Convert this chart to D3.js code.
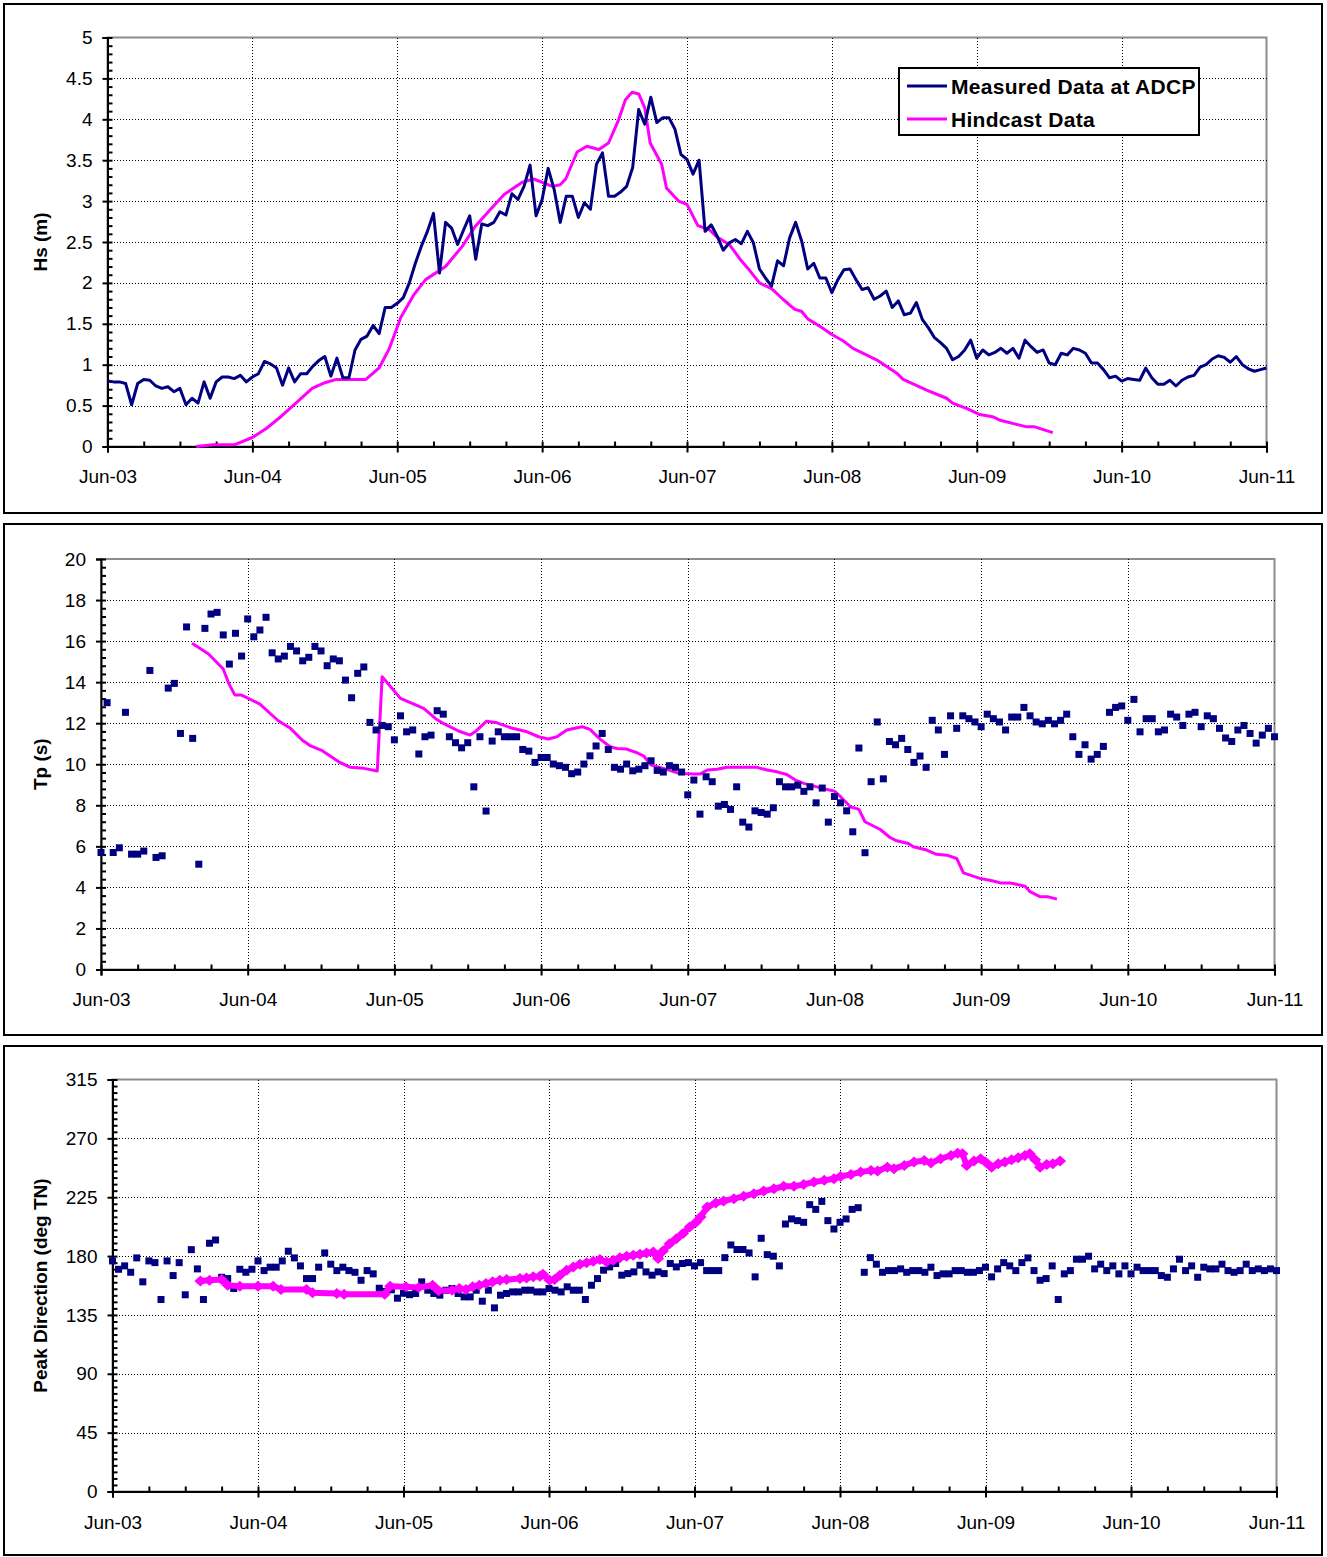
<!DOCTYPE html>
<html><head><meta charset="utf-8">
<script src="https://cdnjs.cloudflare.com/ajax/libs/d3/7.8.5/d3.min.js"></script>
<style>
body{margin:0;background:#fff}
text{font-family:"Liberation Sans",Arial,sans-serif}
</style></head>
<body><svg id="c" width="1327" height="1557"></svg>
<script>
// ---------- DATA ----------
const xTickLabels = ["Jun-03","Jun-04","Jun-05","Jun-06","Jun-07","Jun-08","Jun-09","Jun-10","Jun-11"];
const seriesNames = ["Measured Data at ADCP","Hindcast Data"];
const hsTicks = [0,0.5,1,1.5,2,2.5,3,3.5,4,4.5,5];
const tpTicks = [0,2,4,6,8,10,12,14,16,18,20];
const dirTicks = [0,45,90,135,180,225,270,315];

// hourly measured values, hour 0 = Jun-03
const hsMeasured = [0.80,0.79,0.79,0.77,0.51,0.77,0.82,0.81,0.74,0.71,0.73,0.67,0.71,0.51,0.59,0.53,0.79,0.59,0.79,0.85,
0.85,0.83,0.87,0.79,0.85,0.89,1.04,1.01,0.96,0.75,0.96,0.79,0.89,0.89,0.98,1.05,1.10,0.86,1.08,0.84,
0.84,1.18,1.31,1.35,1.48,1.38,1.70,1.70,1.75,1.82,2.00,2.24,2.45,2.63,2.85,2.12,2.74,2.67,2.47,2.65,
2.82,2.29,2.72,2.70,2.74,2.87,2.83,3.09,3.02,3.18,3.44,2.82,3.02,3.40,3.14,2.74,3.06,3.06,2.80,2.98,
2.90,3.45,3.59,3.06,3.06,3.11,3.18,3.41,4.12,3.94,4.27,3.96,4.02,4.02,3.88,3.57,3.51,3.33,3.50,2.63,
2.71,2.57,2.40,2.49,2.53,2.48,2.63,2.49,2.17,2.06,1.96,2.27,2.21,2.55,2.74,2.51,2.17,2.24,2.06,2.06,
1.88,2.04,2.16,2.17,2.04,1.92,1.94,1.80,1.84,1.90,1.70,1.78,1.61,1.63,1.76,1.55,1.45,1.33,1.27,1.20,
1.06,1.10,1.18,1.30,1.08,1.18,1.12,1.15,1.20,1.14,1.20,1.08,1.30,1.22,1.15,1.18,1.02,1.00,1.14,1.12,
1.20,1.18,1.14,1.02,1.02,0.94,0.84,0.86,0.80,0.83,0.82,0.81,0.96,0.84,0.76,0.76,0.81,0.74,0.81,0.85,
0.87,0.97,1.00,1.07,1.11,1.09,1.03,1.10,1.00,0.95,0.92,0.94,0.96];

// [hour, value]
const hsHindcast = [[14.7,0],[17.5,0.02],[21,0.02],[24,0.11],[26.3,0.22],[28.8,0.37],[31.8,0.57],[33.9,0.71],[36,0.78],[37.9,0.82],
[42.8,0.82],[45,0.96],[46.7,1.2],[48.6,1.58],[50.8,1.86],[52.7,2.04],[56,2.2],[58.8,2.45],[60.9,2.69],[63.2,2.88],
[65.7,3.08],[68.7,3.23],[70.6,3.27],[73.7,3.18],[75,3.2],[75.9,3.27],[77.8,3.6],[79.4,3.67],[81.4,3.63],[83,3.71],
[84.7,4.0],[85.8,4.24],[86.9,4.33],[88,4.31],[89,4.14],[89.9,3.71],[91.8,3.45],[92.6,3.16],[94.6,3.0],[96,2.96],
[97.8,2.7],[99.7,2.65],[100.8,2.57],[103,2.47],[105,2.27],[106.3,2.16],[108,2.0],[110,1.93],[111.9,1.8],[113.8,1.68],
[115,1.65],[116,1.56],[118,1.47],[120,1.37],[121.9,1.29],[123.5,1.2],[127.4,1.06],[130.7,0.9],[131.8,0.82],[135.7,0.69],
[139,0.59],[140,0.53],[142.5,0.46],[144.5,0.39],[146.8,0.36],[147.9,0.32],[152.3,0.24],[153.6,0.24],[156.6,0.17]];

const tpMeasured = [5.70,13.0,5.70,5.93,12.53,5.62,5.62,5.77,14.57,5.46,5.54,13.71,13.94,11.50,16.69,11.26,5.13,16.62,17.32,17.40,
16.30,14.88,16.38,15.27,17.08,16.21,16.54,17.16,15.43,15.13,15.27,15.74,15.52,15.04,15.21,15.74,15.52,14.80,15.13,15.04,
14.10,13.24,14.43,14.74,12.04,11.67,11.89,11.83,11.19,12.36,11.58,11.67,10.50,11.34,11.42,12.61,12.44,11.34,11.05,10.80,
11.05,8.90,11.34,7.72,11.13,11.58,11.34,11.34,11.34,10.72,10.64,10.09,10.33,10.33,10.01,9.93,9.85,9.54,9.62,10.01,
10.41,10.89,11.50,10.72,9.85,9.76,10.01,9.68,9.76,9.93,10.17,9.70,9.62,9.93,9.85,9.62,8.51,9.23,7.57,9.39,
9.15,7.96,8.04,7.80,8.90,7.18,6.94,7.73,7.65,7.57,7.88,9.15,8.90,8.90,8.98,8.68,8.90,8.12,8.84,7.18,
8.43,8.12,7.73,6.71,10.79,5.69,9.15,12.06,9.29,11.11,10.95,11.26,10.72,10.09,10.40,9.85,12.14,11.67,10.48,12.36,
11.75,12.36,12.22,12.06,11.83,12.44,12.22,12.06,11.67,12.30,12.30,12.77,12.36,12.06,11.97,12.14,11.97,12.14,12.44,11.34,
10.48,10.95,10.25,10.48,10.87,12.53,12.77,12.84,12.14,13.16,11.58,12.22,12.22,11.58,11.67,12.44,12.30,11.89,12.44,12.53,
11.83,12.36,12.22,11.75,11.28,11.11,11.67,11.89,11.50,11.03,11.42,11.75,11.34];

const tpHindcast = [[14.9,15.89],[17.6,15.37],[20,14.64],[20.9,13.94],[21.9,13.37],[23,13.37],[26,12.93],[29,12.12],[31,11.75],[32.9,11.18],
[34.3,10.89],[36.2,10.66],[38.9,10.12],[40.8,9.85],[43,9.80],[45.2,9.67],[46,14.26],[49,13.21],[50.9,12.96],[52.8,12.72],
[54.7,12.23],[56,11.99],[58.5,11.62],[60.4,11.42],[61.2,11.58],[63.1,12.10],[64.8,12.02],[67,11.78],[69.7,11.58],[71.6,11.34],
[73.2,11.23],[74.6,11.34],[76.2,11.67],[78.7,11.83],[80,11.70],[81.7,11.21],[83.3,10.85],[84.4,10.77],[86,10.74],[87.7,10.56],
[88.8,10.40],[90,9.96],[92,9.80],[94.2,9.59],[95.5,9.55],[97,9.52],[98,9.52],[99.2,9.72],[100.8,9.76],[102.4,9.85],
[107.3,9.85],[109,9.72],[110.6,9.63],[112.2,9.50],[113.6,9.23],[115,9.07],[117.1,8.90],[118.8,8.77],[120,8.69],[121,8.42],
[122.6,7.93],[124,7.80],[125,7.20],[127.5,6.82],[129.1,6.43],[130.2,6.27],[132.1,6.14],[132.9,5.98],[135.1,5.82],[136.7,5.61],
[138.4,5.57],[140,5.41],[141.1,4.71],[143.8,4.44],[146,4.31],[147.1,4.22],[148.7,4.22],[151.2,4.06],[152,3.79],[153.7,3.54],
[155,3.54],[156.4,3.43]];

const dirMeasured = [176.3,169.9,172.5,167.6,178.6,160.3,176.3,175.0,146.8,176.3,165.1,175.0,150.4,184.9,170.2,146.8,189.8,192.3,163.8,162.8,
155.2,169.9,167.6,169.9,176.3,168.9,171.5,171.5,176.3,183.7,178.6,172.5,162.8,162.8,171.5,182.4,173.8,168.9,171.5,168.9,
167.6,161.5,168.9,166.4,155.4,153.0,154.2,147.8,151.6,150.5,151.4,160.3,153.9,151.4,150.1,153.9,155.2,151.4,148.8,148.8,
153.9,145.5,153.9,140.4,150.1,151.4,152.6,152.6,153.9,153.9,152.6,152.6,155.2,153.9,152.6,156.5,153.9,153.9,146.8,157.7,
162.8,169.2,171.7,174.3,165.4,166.6,167.9,173.0,167.9,165.4,167.9,166.6,174.3,171.7,174.3,175.0,172.5,175.0,168.9,168.9,
168.9,178.8,188.5,185.0,185.0,182.4,164.1,193.6,181.1,179.9,172.5,204.5,208.4,207.1,205.8,219.3,215.7,221.8,207.1,200.7,
205.8,208.4,215.7,217.0,167.6,178.8,173.8,167.6,168.9,168.9,170.2,167.6,168.9,168.9,167.6,171.5,165.1,166.4,166.4,168.9,
168.9,167.6,167.6,168.9,171.5,164.1,170.2,175.0,172.5,168.9,175.0,178.6,168.9,161.5,162.8,172.5,146.8,166.4,168.9,177.6,
177.6,179.9,170.2,173.8,168.9,172.5,166.4,172.5,166.4,171.5,168.9,168.9,168.9,165.1,163.8,170.2,177.6,168.9,172.5,163.8,
171.5,170.2,170.2,173.8,168.9,167.6,168.9,173.8,168.9,170.2,168.9,170.2,168.9];

const dirHindcast = [[14.5,161],[16,161.5],[18,162],[19,157.7],[21,157],[24,157],[26.5,157],[27.8,154.4],[32,154.4],[33,151.9],
[37,151.4],[38.2,150.9],[44.9,150.9],[45.8,157],[48.4,156.5],[50.5,156],[52.8,157.7],[53.8,153.4],[56,153.9],[57.2,155.2],
[58.3,154.5],[59.4,156.5],[60.5,157.7],[61.6,159],[62.7,160.3],[63.9,161.5],[65,162],[67.2,162.8],[68.3,163.3],[69.4,164.1],
[70.5,164.6],[71,166.1],[72.1,161.5],[72.9,162],[73.8,165.4],[74.9,169.2],[76,171.7],[77.1,173.8],[78.2,174.8],[79.3,176],
[80.4,177.3],[81.5,175.5],[82.6,176.8],[83.7,178.8],[84.8,179.9],[85.9,180.6],[87,181.4],[88.1,182.4],[89.2,183.2],[90,178.1],
[90.8,183.9],[91.9,189.5],[93,193.3],[94.1,197.2],[95.2,202.2],[96.3,206.1],[97,209.9],[98.1,217.5],[99.5,220.6],[100.8,222.1],
[102.5,223.9],[104.1,225.7],[105.8,227.7],[107.4,229.7],[109.1,231.5],[110.7,233.3],[112.4,233.3],[114,234.8],[115.7,236.6],[117.4,237.9],
[119,239.1],[120.1,240.9],[121.8,242.4],[123.4,244.2],[125.1,245.5],[126.2,245],[127.8,248],[128.9,246.8],[130.6,249.3],[132.2,251.9],
[133.9,253.1],[135,251.1],[136.6,254.4],[138.3,256.9],[139.4,258.7],[140.2,258.2],[140.9,249.3],[142.1,252.6],[143.2,254.4],[144,251.9],
[145,248],[146.1,250.6],[147.2,251.9],[148.3,253.6],[149.4,255.2],[150.5,256.9],[151.3,258.2],[152.2,253.6],[153,248],[154.1,250],
[155.1,250.6],[156.3,252.6]];

// ---------- DRAW ----------
const NAVY = "#000080", MAG = "#FF00FF";
const svg = d3.select("#c");
const hourTicks = d3.range(0, 193, 24);
const minorHourTicks = d3.range(0, 193, 6);

function panel(cfg){
  const g = svg.append("g");
  g.append("rect").attr("x",cfg.box[0]).attr("y",cfg.box[1]).attr("width",cfg.box[2]-cfg.box[0]).attr("height",cfg.box[3]-cfg.box[1])
    .attr("fill","#fff").attr("stroke","#000").attr("stroke-width",2);
  const x = d3.scaleLinear().domain([0,192]).range([cfg.l,cfg.r]);
  const y = d3.scaleLinear().domain([0,cfg.ticks[cfg.ticks.length-1]]).range([cfg.b,cfg.t]);
  g.append("rect").attr("x",cfg.l).attr("y",cfg.t).attr("width",cfg.r-cfg.l).attr("height",cfg.b-cfg.t)
    .attr("fill","none").attr("stroke","#8c8c8c").attr("stroke-width",2);
  const grid = g.append("g").attr("stroke","#000").attr("stroke-width",1).attr("stroke-dasharray","1,2").attr("shape-rendering","crispEdges");
  grid.selectAll(".hg").data(cfg.ticks.slice(1,-1)).join("line")
    .attr("x1",cfg.l).attr("x2",cfg.r).attr("y1",d=>Math.round(y(d))+0.5).attr("y2",d=>Math.round(y(d))+0.5);
  grid.selectAll(".vg").data(hourTicks.slice(1,-1)).join("line")
    .attr("y1",cfg.t).attr("y2",cfg.b).attr("x1",d=>Math.round(x(d))+0.5).attr("x2",d=>Math.round(x(d))+0.5);
  const ya = g.append("g").attr("transform",`translate(${cfg.l},0)`)
    .call(d3.axisLeft(y).tickValues(cfg.ticks).tickSize(5).tickPadding(10).tickFormat(d=>String(d)));
  const minorY = d3.range(0, cfg.ticks[cfg.ticks.length-1]+1e-9, cfg.minor);
  const yb = g.append("g").attr("transform",`translate(${cfg.l},0)`)
    .call(d3.axisRight(y).tickValues(minorY).tickSize(5).tickFormat(""));
  yb.select(".domain").remove();
  const xa = g.append("g").attr("transform",`translate(0,${cfg.b})`)
    .call(d3.axisBottom(x).tickValues(hourTicks).tickSize(6).tickPadding(cfg.xpad).tickFormat((d,i)=>xTickLabels[i]));
  const xb = g.append("g").attr("transform",`translate(0,${cfg.b})`)
    .call(d3.axisTop(x).tickValues(minorHourTicks).tickSize(5).tickFormat(""));
  xb.select(".domain").remove();
  [ya,yb,xa,xb].forEach(a=>{
    a.selectAll("line").attr("stroke","#000").attr("stroke-width",2);
    a.selectAll(".domain").attr("stroke","#000").attr("stroke-width",2);
    a.selectAll("text").attr("font-size",19).attr("fill","#000").style("font-family",'"Liberation Sans",Arial,sans-serif');
  });
  g.append("text").attr("transform",`translate(${cfg.titleX},${(cfg.t+cfg.b)/2}) rotate(-90)`)
    .attr("text-anchor","middle").attr("dominant-baseline","central").attr("font-size",19).attr("font-weight","bold").text(cfg.title);
  return {g,x,y};
}

// Panel 1: Hs
const p1 = panel({box:[4,4,1322,513], l:107.5, r:1266.5, t:37.5, b:446.5, ticks:hsTicks, minor:0.1, title:"Hs (m)", titleX:40, xpad:17});
p1.g.append("path").datum(hsHindcast).attr("fill","none").attr("stroke",MAG).attr("stroke-width",3).attr("stroke-linejoin","round")
  .attr("d", d3.line().x(d=>p1.x(d[0])).y(d=>p1.y(d[1])));
p1.g.append("path").datum(hsMeasured).attr("fill","none").attr("stroke",NAVY).attr("stroke-width",3).attr("stroke-linejoin","round")
  .attr("d", d3.line().x((d,i)=>p1.x(i)).y(d=>p1.y(d)));
const lg = p1.g.append("g");
lg.append("rect").attr("x",899).attr("y",68).attr("width",300).attr("height",67).attr("fill","#fff").attr("stroke","#000").attr("stroke-width",2);
[NAVY,MAG].forEach((c,i)=>{
  const yy = 86 + i*33;
  lg.append("line").attr("x1",907).attr("x2",947).attr("y1",yy).attr("y2",yy).attr("stroke",c).attr("stroke-width",3);
  lg.append("text").attr("x",951).attr("y",yy).attr("dominant-baseline","central").attr("font-size",21).attr("font-weight","bold")
    .attr("letter-spacing",0.3).text(seriesNames[i]);
});

// Panel 2: Tp
const p2 = panel({box:[4,524,1322,1035], l:101, r:1274.5, t:559, b:969.5, ticks:tpTicks, minor:0.4, title:"Tp (s)", titleX:40, xpad:17});
p2.g.append("path").datum(tpHindcast).attr("fill","none").attr("stroke",MAG).attr("stroke-width",3).attr("stroke-linejoin","round")
  .attr("d", d3.line().x(d=>p2.x(d[0])).y(d=>p2.y(d[1])));
p2.g.selectAll(".sq").data(tpMeasured).join("rect").attr("width",7).attr("height",7)
  .attr("x",(d,i)=>p2.x(i)-3.5).attr("y",d=>p2.y(d)-3.5).attr("fill",NAVY);

// Panel 3: Direction
const p3 = panel({box:[4,1046,1322,1555], l:112.5, r:1276.5, t:1079.5, b:1491.5, ticks:dirTicks, minor:5, title:"Peak Direction (deg TN)", titleX:40, xpad:18});
p3.g.selectAll(".sq").data(dirMeasured).join("rect").attr("width",7).attr("height",7)
  .attr("x",(d,i)=>p3.x(i)-3.5).attr("y",d=>p3.y(d)-3.5).attr("fill",NAVY);
p3.g.append("path").datum(dirHindcast).attr("fill","none").attr("stroke",MAG).attr("stroke-width",6).attr("stroke-linejoin","round")
  .attr("d", d3.line().x(d=>p3.x(d[0])).y(d=>p3.y(d[1])));
p3.g.selectAll(".dm").data(dirHindcast).join("path").attr("fill",MAG)
  .attr("transform",d=>`translate(${p3.x(d[0])},${p3.y(d[1])})`).attr("d","M0,-5.5L6,0L0,5.5L-6,0Z");
</script>
</body></html>
